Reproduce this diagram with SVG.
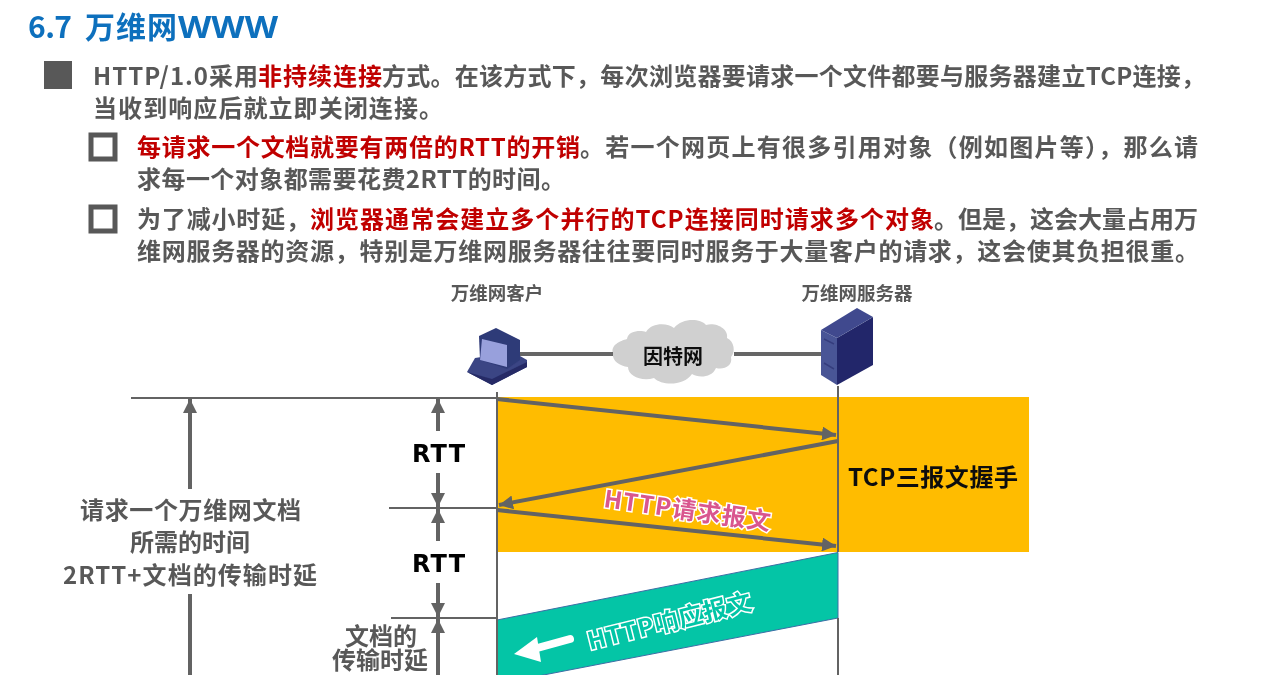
<svg xmlns="http://www.w3.org/2000/svg" width="1273" height="675" viewBox="0 0 1273 675">
<style>
text{font-family:"Noto Sans CJK SC","Noto Sans",sans-serif;font-weight:700}
.b{font-size:24px;fill:#595959}
.r{fill:#c00000}
.g{font-size:24px;fill:#595959;text-anchor:middle}
.s{font-size:18.5px;fill:#595959;text-anchor:middle}
.rtt{font-size:24px;fill:#000;text-anchor:middle;font-family:"DejaVu Sans",sans-serif}
.t{font-size:30px;fill:#0f70bd}
.l{stroke:#636363;fill:none;stroke-width:2}
.a{stroke:#636363;fill:none;stroke-width:4}
</style>
<defs>
<marker id="ah" markerUnits="userSpaceOnUse" markerWidth="16" markerHeight="14" refX="14" refY="7" orient="auto"><path d="M0 0L14 7L0 14z" fill="#636363"/></marker>
<filter id="bl" x="-5%" y="-20%" width="110%" height="140%"><feGaussianBlur stdDeviation="0.45"/></filter>
</defs>
<rect width="1273" height="675" fill="#fff"/>
<g id="slide-text" filter="url(#bl)">
<text class="t" x="28" y="38" textLength="44">6.7</text>
<text class="t" x="85" y="38" textLength="92">万维网</text>
<text class="t" x="178" y="38" textLength="100" lengthAdjust="spacingAndGlyphs" style="font-family:'Noto Sans',sans-serif;font-size:31px">WWW</text>
<rect x="44" y="61" width="28" height="28" fill="#595959"/>
<text class="b" x="93" y="85" textLength="165">HTTP/1.0采用</text>
<text class="b r" x="258" y="85" textLength="124">非持续连接</text>
<text class="b" x="382" y="85" textLength="823">方式。在该方式下，每次浏览器要请求一个文件都要与服务器建立TCP连接，</text>
<text class="b" x="93" y="117" textLength="350">当收到响应后就立即关闭连接。</text>
<rect x="91" y="135" width="24" height="24" fill="none" stroke="#595959" stroke-width="5"/>
<text class="b r" x="137" y="156" textLength="443">每请求一个文档就要有两倍的RTT的开销</text>
<text class="b" x="580" y="156" textLength="618">。若一个网页上有很多引用对象（例如图片等），那么请</text>
<text class="b" x="137" y="188" textLength="428">求每一个对象都需要花费2RTT的时间。</text>
<rect x="91" y="207" width="24" height="24" fill="none" stroke="#595959" stroke-width="5"/>
<text class="b" x="137" y="228" textLength="173">为了减小时延，</text>
<text class="b r" x="310" y="228" textLength="624">浏览器通常会建立多个并行的TCP连接同时请求多个对象</text>
<text class="b" x="934" y="228" textLength="264">。但是，这会大量占用万</text>
<text class="b" x="137" y="260" textLength="1062">维网服务器的资源，特别是万维网服务器往往要同时服务于大量客户的请求，这会使其负担很重。</text>
</g>
<g id="band-tcp"><rect x="497" y="397" width="532" height="155" fill="#ffbc00"/></g>
<g id="band-response"><path d="M497 620L838 552.500V618L497 684z" fill="#04c5a6" stroke="#3c6ea5" stroke-width="1"/></g>
<g id="client" filter="url(#bl)">
<text class="s" x="497" y="300">万维网客户</text>
<path d="M475 358L513 352L527 360V367L492 385L467 372z" fill="#3a4484"/>
<path d="M467 372L492 385L527 367V362L492 379z" fill="#262c66"/>
<path d="M479 336L496 328L520 340V360L507 369L480 360z" fill="#2f3a78"/>
<path d="M482 339L507 345V367L480 360z" fill="#98a0dc"/>
</g>
<g id="internet" filter="url(#bl)">
<path d="M613 354C610 345 620 341 627 339C628 331 640 330 646 332C652 322 668 323 674 328C682 318 700 318 706 325C716 322 729 329 727 338C734 341 736 352 731 357C733 366 724 370 716 368C712 378 698 378 692 374C684 386 662 386 654 378C642 382 628 376 628 367C620 366 612 361 613 354z" fill="#d0d0d0"/>
<text x="673" y="364" text-anchor="middle" style="font-size:20px;fill:#111">因特网</text>
</g>
<g id="server" filter="url(#bl)">
<text class="s" x="857" y="300">万维网服务器</text>
<path d="M837 338L873 317V365L837 385z" fill="#24286a"/>
<path d="M821 330L837 338V385L821 375z" fill="#4a5596"/>
<path d="M821 330L857 308L873 317L837 338z" fill="#3f4a8e"/>
<path d="M824 339L834 344M824 363L834 369" stroke="#353e7e" stroke-width="1.500" fill="none"/>
</g>
<g id="connectors">
<path d="M520 354H613M734 354H821" stroke="#666" stroke-width="4" fill="none"/>
<path class="l" d="M497 392V675M838 386V552M838 618V675"/>
<path class="l" d="M131 398H497M389 508H497M391 618H497"/>
<path class="a" d="M497 399L836 435" marker-end="url(#ah)"/>
<path class="a" d="M838 441L499 505" marker-end="url(#ah)"/>
<path class="a" d="M497 510L836 546" marker-end="url(#ah)"/>
<path class="a" d="M190 489V399" marker-end="url(#ah)"/>
<path class="a" d="M190 594V675"/>
<path class="a" d="M438 431V399" marker-end="url(#ah)"/>
<path class="a" d="M438 473V507" marker-end="url(#ah)"/>
<path class="a" d="M438 541V509" marker-end="url(#ah)"/>
<path class="a" d="M438 583V617" marker-end="url(#ah)"/>
<path class="a" d="M438 675V619" marker-end="url(#ah)"/>
<path d="M570 639L530 650" stroke="#fff" stroke-width="8" stroke-linecap="round"/>
<path d="M514 654L537 637L541 662z" fill="#fff"/>
</g>
<g id="labels" filter="url(#bl)">
<text class="rtt" x="412" y="462" textLength="53" style="text-anchor:start">RTT</text>
<text class="rtt" x="412" y="572" textLength="53" style="text-anchor:start">RTT</text>
<text class="g" x="80" y="519" textLength="221" style="text-anchor:start">请求一个万维网文档</text>
<text class="g" x="190" y="551">所需的时间</text>
<text class="g" x="63" y="584" textLength="254" style="text-anchor:start">2RTT+文档的传输时延</text>
<text class="g" x="381" y="645">文档的</text>
<text class="g" x="380" y="669">传输时延</text>
<text x="848" y="486" textLength="170" style="font-size:24px;fill:#111">TCP三报文握手</text>
<text transform="translate(603 507) rotate(8)" textLength="168" style="font-size:24px;fill:#d9568e;stroke:#fff;stroke-width:3;paint-order:stroke">HTTP请求报文</text>
<text transform="translate(590 650) rotate(-14)" textLength="168" style="font-size:24px;fill:#04c5a6;stroke:#fff;stroke-width:3;paint-order:stroke">HTTP响应报文</text>
</g>
</svg>
